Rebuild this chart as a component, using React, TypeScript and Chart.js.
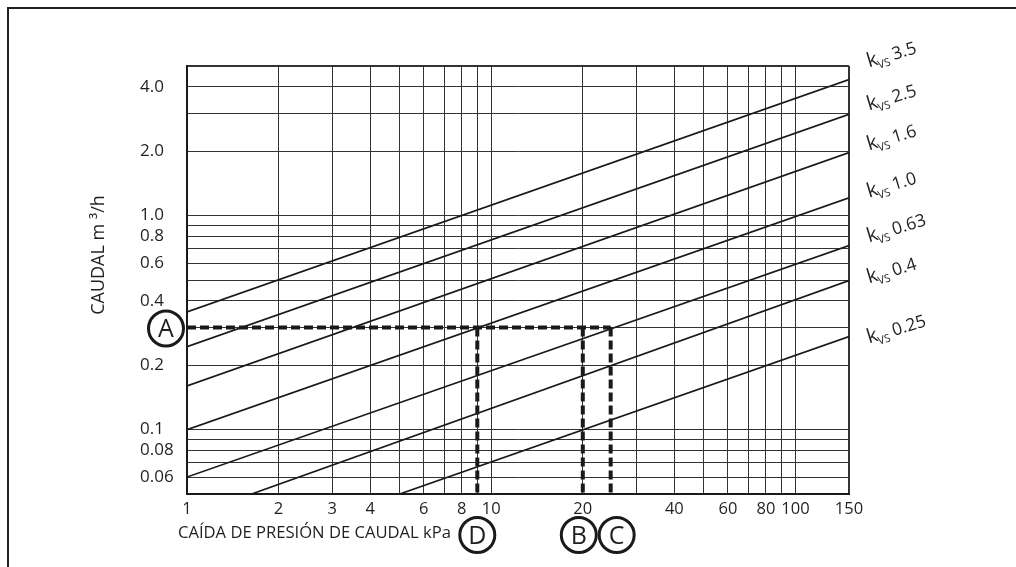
import React, { useEffect, useRef } from 'react';
import { Chart, registerables } from 'chart.js';

Chart.register(...registerables);

// ---- data ----
const pressureGrid = [1, 2, 3, 4, 5, 6, 7, 8, 9, 10, 20, 30, 40, 50, 60, 70, 80, 90, 100, 150];
const pressureLabels = ['1', '2', '3', '4', '6', '8', '10', '20', '40', '60', '80', '100', '150'];
const flowGrid = [0.05, 0.06, 0.07, 0.08, 0.09, 0.1, 0.2, 0.3, 0.4, 0.5, 0.6, 0.7, 0.8, 0.9, 1, 2, 3, 4, 5];
const flowLabels = ['0.06', '0.08', '0.1', '0.2', '0.4', '0.6', '0.8', '1.0', '2.0', '4.0'];

const kvsNames = ['3.5', '2.5', '1.6', '1.0', '0.63', '0.4', '0.25'];
const kvsStartDp = [1, 1, 1, 1, 1, 1.63, 5.0];
const kvsStartFlow = [0.355, 0.244, 0.16, 0.1, 0.06, 0.05, 0.05];
const kvsEndDp = [150, 150, 150, 150, 150, 150, 150];
const kvsEndFlow = [4.32, 2.97, 1.97, 1.21, 0.724, 0.497, 0.272];

const exampleFlow = 0.3; // point A
const exampleDpD = 9;
const exampleDpB = 20;
const exampleDpC = 24.7;
const flowMin = 0.05;
const flowMax = 5;
const dpMin = 1;
const dpMax = 150;

const xTitle = 'CAÍDA DE PRESIÓN DE CAUDAL kPa';
const yTitle = 'CAUDAL m ³/h';

// ---- style / layout ----
const TEXT = '#231f20';
const LINE = '#1a1a1a';
const GRID = '#333333';
const FONT = '"Open Sans", "Noto Sans", sans-serif';
const kvsLabelDy = [-12, -4, -2, 0, -3, 3, 7];

const matchLabel = (labels: string[], value: number) => {
  const i = labels.findIndex((l) => Math.abs(parseFloat(l) - value) / value < 1e-6);
  return i >= 0 ? labels[i] : '';
};

const annotationPlugin = {
  id: 'nomogramAnnotations',
  afterDraw(chart: any) {
    const { ctx } = chart;
    const x = chart.scales.x;
    const y = chart.scales.y;
    ctx.save();
    ctx.fillStyle = TEXT;
    ctx.strokeStyle = LINE;

    // x title
    ctx.font = `16.6px ${FONT}`;
    ctx.textAlign = 'left';
    ctx.textBaseline = 'middle';
    ctx.fillText(xTitle, x.left - 9, x.top + 39);

    // y title
    ctx.save();
    ctx.font = `18px ${FONT}`;
    ctx.translate(99, (y.top + y.bottom) / 2 - 25);
    ctx.rotate(-Math.PI / 2);
    ctx.textAlign = 'center';
    ctx.textBaseline = 'middle';
    ctx.fillText(yTitle, 0, 0);
    ctx.restore();

    // circled markers
    const circle = (cx: number, cy: number, letter: string) => {
      ctx.beginPath();
      ctx.arc(cx, cy, 17.5, 0, Math.PI * 2);
      ctx.lineWidth = 3;
      ctx.strokeStyle = LINE;
      ctx.stroke();
      ctx.fillStyle = TEXT;
      ctx.font = `25px ${FONT}`;
      ctx.textAlign = 'center';
      ctx.textBaseline = 'alphabetic';
      ctx.fillText(letter, cx, cy + 9);
    };
    const markY = x.top + 41;
    circle(x.left - 21, y.getPixelForValue(exampleFlow) + 1, 'A');
    circle(x.getPixelForValue(exampleDpD), markY, 'D');
    circle(x.getPixelForValue(exampleDpB) - 4, markY, 'B');
    circle(x.getPixelForValue(exampleDpC) + 6, markY, 'C');

    // kvs labels
    kvsNames.forEach((name, i) => {
      const ay = y.getPixelForValue(kvsEndFlow[i]) + kvsLabelDy[i];
      const ax = x.right + 20;
      ctx.save();
      ctx.translate(ax, ay);
      ctx.rotate((-17 * Math.PI) / 180);
      ctx.textAlign = 'left';
      ctx.textBaseline = 'alphabetic';
      ctx.fillStyle = TEXT;
      ctx.font = `20px ${FONT}`;
      ctx.fillText('k', 0, 0);
      const kw = ctx.measureText('k').width;
      ctx.font = `11px ${FONT}`;
      ctx.fillText('VS', kw - 1, 4);
      const vw = ctx.measureText('VS').width;
      ctx.font = `17.5px ${FONT}`;
      ctx.fillText(name, kw - 1 + vw + 4, 0);
      ctx.restore();
    });

    ctx.restore();
  },
};

export default function App() {
  const ref = useRef<HTMLCanvasElement>(null);

  useEffect(() => {
    const kvsSets = kvsNames.map((name, i) => ({
      label: 'kvs ' + name,
      data: [
        { x: kvsStartDp[i], y: kvsStartFlow[i] },
        { x: kvsEndDp[i], y: kvsEndFlow[i] },
      ],
      borderColor: LINE,
      borderWidth: 1.7,
      pointRadius: 0,
      tension: 0,
      order: 1,
    }));
    const dashed = (pts: { x: number; y: number }[], label: string) => ({
      label,
      data: pts,
      borderColor: LINE,
      borderWidth: 4,
      borderDash: [9, 4],
      borderCapStyle: 'butt',
      pointRadius: 0,
      tension: 0,
      order: 0,
    });
    const dashSets = [
      dashed([{ x: dpMin, y: exampleFlow }, { x: exampleDpC, y: exampleFlow }], 'A'),
      dashed([{ x: exampleDpD, y: exampleFlow }, { x: exampleDpD, y: flowMin }], 'D'),
      dashed([{ x: exampleDpB, y: exampleFlow }, { x: exampleDpB, y: flowMin }], 'B'),
      dashed([{ x: exampleDpC, y: exampleFlow }, { x: exampleDpC, y: flowMin }], 'C'),
    ];

    const chart = new Chart(ref.current as HTMLCanvasElement, {
      type: 'line',
      data: { datasets: [...kvsSets, ...dashSets] as any },
      options: {
        responsive: false,
        devicePixelRatio: 1,
        animation: false,
        events: [],
        layout: { padding: { left: 140, top: 66, right: 167, bottom: 43 } },
        plugins: { legend: { display: false }, tooltip: { enabled: false } },
        scales: {
          x: {
            type: 'logarithmic',
            min: dpMin,
            max: dpMax,
            afterBuildTicks: (s: any) => {
              s.ticks = pressureGrid.map((v) => ({ value: v }));
            },
            afterFit: (s: any) => {
              s.height = 30;
            },
            grid: {
              color: GRID,
              lineWidth: (c: any) => (c.tick && c.tick.value === dpMax ? 2 : 1),
              drawTicks: false,
            },
            border: { display: true, color: LINE, width: 2 },
            ticks: {
              autoSkip: false,
              maxRotation: 0,
              padding: 5,
              color: TEXT,
              font: { family: FONT, size: 16.5 },
              callback: (v: any) => matchLabel(pressureLabels, Number(v)),
            },
          },
          y: {
            type: 'logarithmic',
            min: flowMin,
            max: flowMax,
            afterBuildTicks: (s: any) => {
              s.ticks = flowGrid.map((v) => ({ value: v }));
            },
            afterFit: (s: any) => {
              s.width = 47;
            },
            grid: {
              color: GRID,
              lineWidth: (c: any) => (c.tick && c.tick.value === flowMax ? 2 : 1),
              drawTicks: false,
            },
            border: { display: true, color: LINE, width: 2 },
            ticks: {
              autoSkip: false,
              crossAlign: 'far',
              color: TEXT,
              font: { family: FONT, size: 17 },
              callback: (v: any) => matchLabel(flowLabels, Number(v)),
            },
          },
        },
      } as any,
      plugins: [annotationPlugin],
    });
    return () => chart.destroy();
  }, []);

  return (
    <div
      style={{
        position: 'fixed',
        left: 0,
        top: 0,
        width: 1016,
        height: 567,
        overflow: 'hidden',
        background: '#ffffff',
      }}
    >
      <div
        style={{
          position: 'absolute',
          left: 7,
          top: 7,
          width: 1100,
          height: 700,
          borderTop: '2px solid #231f20',
          borderLeft: '2px solid #231f20',
        }}
      />
      <canvas
        ref={ref}
        width={1016}
        height={567}
        style={{ position: 'absolute', left: 0, top: 0, width: 1016, height: 567 }}
      />
    </div>
  );
}
